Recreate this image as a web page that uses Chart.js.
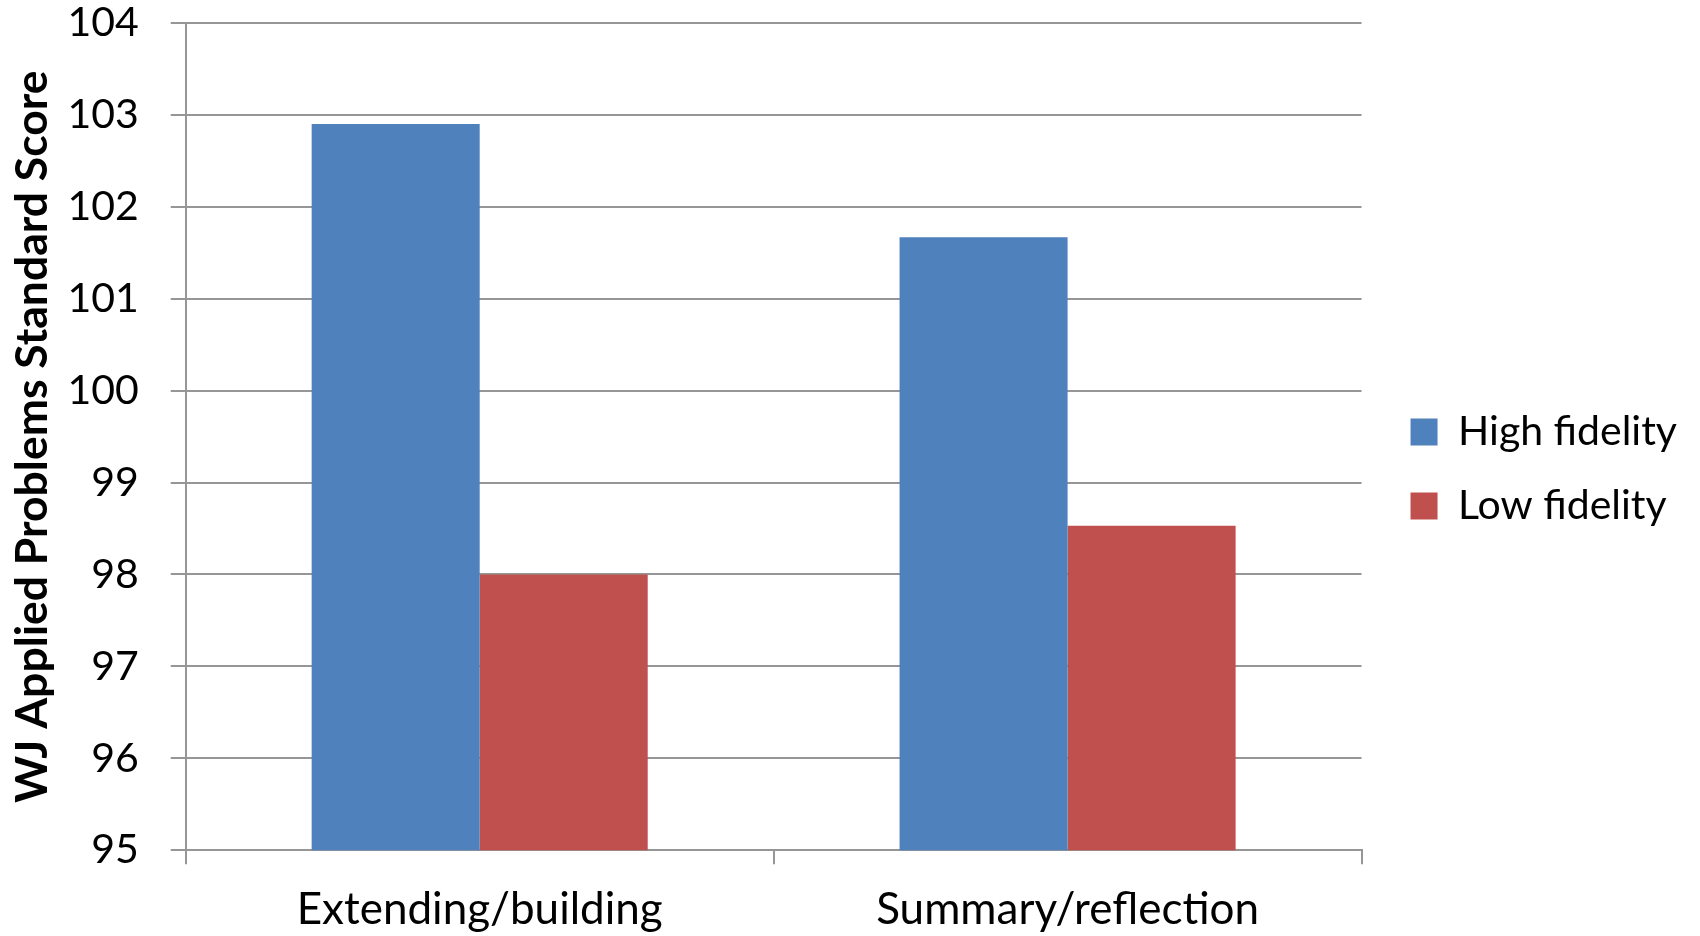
<!DOCTYPE html>
<html>
<head>
<meta charset="utf-8">
<script src="https://cdn.jsdelivr.net/npm/chart.js@4.4.1/dist/chart.umd.min.js"></script>
<style>
  html, body { margin: 0; padding: 0; background: #ffffff; }
  #wrap { width: 1700px; height: 936px; position: relative; }
</style>
</head>
<body>
<div id="wrap"><canvas id="chart" width="1700" height="936"></canvas></div>
<script>
// Categories and series
const categories = ['Extending/building', 'Summary/reflection'];
const highFidelity = [102.9, 101.67];
const lowFidelity = [98.0, 98.53];
const seriesNames = ['High fidelity', 'Low fidelity'];
const yTicks = [95, 96, 97, 98, 99, 100, 101, 102, 103, 104];

const FONT = 'Lato, "Open Sans", sans-serif';
const GRID = '#969696';

const ctx = document.getElementById('chart').getContext('2d');
new Chart(ctx, {
  type: 'bar',
  data: {
    labels: categories,
    datasets: [
      { label: seriesNames[0], data: highFidelity, backgroundColor: '#4F81BD' },
      { label: seriesNames[1], data: lowFidelity, backgroundColor: '#C0504D' }
    ]
  },
  options: {
    responsive: false,
    animation: false,
    devicePixelRatio: 1,
    // tick padding is reserved twice by the axes; negative edges take the surplus back
    layout: { padding: { left: 6, right: 13, top: -17, bottom: -19 } },
    datasets: {
      bar: { categoryPercentage: 0.5716, barPercentage: 1.0, borderWidth: 0 }
    },
    scales: {
      x: {
        grid: {
          offset: true,
          drawOnChartArea: false,
          drawTicks: true,
          tickLength: 14,
          color: GRID,
          lineWidth: 2
        },
        border: { display: true, color: GRID, width: 2 },
        ticks: {
          color: '#000000',
          padding: 19,
          font: { family: FONT, size: 44 }
        }
      },
      y: {
        min: 95,
        max: 104,
        afterBuildTicks: (axis) => { axis.ticks = yTicks.map(v => ({ value: v })); },
        // keep the plot flush with the top edge; the top label may overhang
        afterFit: (scale) => { scale.paddingTop = 23; scale.paddingBottom = 0; },
        grid: {
          color: GRID,
          lineWidth: 2,
          tickLength: 15,
          drawTicks: true
        },
        border: { display: true, color: GRID, width: 2 },
        ticks: {
          color: '#000000',
          padding: 32,
          font: { family: FONT, size: 41 }
        },
        title: {
          display: true,
          text: 'WJ Applied Problems Standard Score',
          color: '#000000',
          padding: { top: 0, bottom: -24 },
          font: { family: FONT, size: 44.5, weight: 'bold' }
        }
      },
      // empty strip separating the plot from the legend
      gap: {
        type: 'linear',
        position: 'right',
        display: true,
        grid: { display: false },
        border: { display: false },
        ticks: { display: false },
        afterFit: (scale) => { scale.width = 16; }
      }
    },
    plugins: {
      legend: {
        position: 'right',
        align: 'center',
        maxWidth: 400,
        labels: {
          boxWidth: 27,
          boxHeight: 27,
          padding: 33,
          color: '#000000',
          font: { family: FONT, size: 41 }
        }
      },
      tooltip: { enabled: false }
    }
  }
});
</script>
</body>
</html>
